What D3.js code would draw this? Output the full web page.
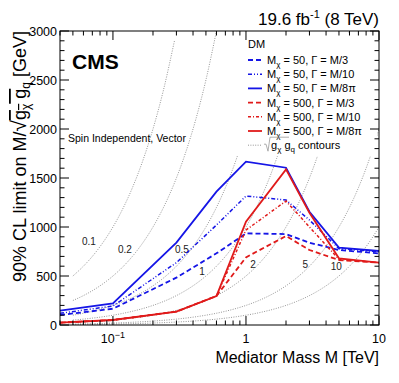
<!DOCTYPE html>
<html><head><meta charset="utf-8">
<script src="https://cdn.jsdelivr.net/npm/d3@7"></script>
<style>
body{margin:0;background:#fff;}
svg{display:block;font-family:"Liberation Sans",Arial,sans-serif;}
</style></head>
<body><svg id="c" width="399" height="383"></svg>
<script>
// ---------- data ----------
const masses = [0.04, 0.1, 0.3, 0.6, 1, 2, 3, 5, 10]; // TeV
const mx50_w3   = [102, 166, 483, 731, 935, 928, 840, 765, 731];
const mx50_w10  = [119, 194, 636, 1020, 1316, 1276, 1071, 779, 748];
const mx50_w8pi = [146, 221, 840, 1360, 1666, 1605, 1156, 789, 755];
const mx500_w3   = [24, 51, 136, 296, 690, 908, 765, 663, 636];
const mx500_w10  = [24, 51, 136, 296, 969, 1265, 1000, 670, 636];
const mx500_w8pi = [24, 51, 136, 296, 1054, 1588, 1146, 680, 636];
const contourCouplings = [0.1, 0.2, 0.5, 1, 2, 5, 10];
const contourLabels = ["0.1", "0.2", "0.5", "1", "2", "5", "10"];
const contourMassGrid = [0.05,0.06,0.07,0.08,0.09,0.1,0.12,0.14,0.17,0.2,0.24,0.29,0.35,0.42,0.5,0.6,0.7,0.85,1,1.2,1.4,1.7,2,2.4,2.9,3.5,4.2,5,6,7,8.5,10];
const yTicks = [0, 500, 1000, 1500, 2000, 2500, 3000];
const xTickLabels = [{v:0.1, base:"10", sup:"−1"}, {v:1, base:"1"}, {v:10, base:"10"}];

const series = [
  {mx:"50",  w:"M/3",  vals:mx50_w3,   color:"#1515e6", dash:"5,3",         width:1.8},
  {mx:"50",  w:"M/10", vals:mx50_w10,  color:"#1515e6", dash:"4,2,1,2,1,2", width:1.5},
  {mx:"50",  w:"M/8π", vals:mx50_w8pi, color:"#1515e6", dash:null,          width:1.8},
  {mx:"500", w:"M/3",  vals:mx500_w3,  color:"#e01a1a", dash:"5,3",         width:1.8},
  {mx:"500", w:"M/10", vals:mx500_w10, color:"#e01a1a", dash:"3,2,1,2",     width:1.5},
  {mx:"500", w:"M/8π", vals:mx500_w8pi,color:"#e01a1a", dash:null,          width:1.8}
];

// ---------- layout ----------
const L = 60, R = 379, T = 31, B = 325;
const svg = d3.select("#c");
const x = d3.scaleLog().domain([0.04, 10]).range([L, R]);
const y = d3.scaleLinear().domain([0, 3000]).range([B, T]);

svg.append("defs").append("clipPath").attr("id","clip")
  .append("rect").attr("x",L).attr("y",T).attr("width",R-L).attr("height",B-T);

// contours
const cg = svg.append("g").attr("clip-path","url(#clip)");
const cline = d3.line().x(d=>x(d[0])).y(d=>y(d[1])).curve(d3.curveMonotoneX);
contourCouplings.forEach(g=>{
  const pts = contourMassGrid.map(m=>[m, m*1000/g]).filter(p=>p[1]<=3000);
  cg.append("path").attr("d", cline(pts)).attr("fill","none")
    .attr("stroke","#8a8a8a").attr("stroke-width",0.9).attr("stroke-dasharray","1,1.4");
});
// contour labels (layout anchors in data space)
const labelPos = [[0.066,857],[0.123,775],[0.33,775],[0.467,541],[1.13,622],[2.79,622],[4.77,592]];
contourLabels.forEach((t,i)=>{
  svg.append("text").attr("x",x(labelPos[i][0])).attr("y",y(labelPos[i][1])+3.5)
    .attr("text-anchor","middle").attr("font-size",10).attr("fill","#222").text(t);
});

// legend (white box)
const lg = svg.append("g");
lg.append("rect").attr("x",234).attr("y",33).attr("width",143).attr("height",123).attr("fill","#fff");
lg.append("text").attr("x",248).attr("y",48).attr("font-size",11).text("DM");
const ly0 = 60, ldy = 14.2;
series.forEach((s,i)=>{
  const yy = ly0 + i*ldy;
  lg.append("line").attr("x1",248).attr("x2",262).attr("y1",yy).attr("y2",yy)
    .attr("stroke",s.color).attr("stroke-width",s.width).attr("stroke-dasharray",s.dash);
  const t = lg.append("text").attr("x",267).attr("y",yy+4).attr("font-size",11);
  t.append("tspan").text("M");
  t.append("tspan").attr("font-size",8).attr("dy",3).text("χ");
  t.append("tspan").attr("dy",-3).text(" = " + s.mx + ", Γ = " + s.w);
});
{
  const yy = ly0 + 6*ldy;
  lg.append("line").attr("x1",248).attr("x2",262).attr("y1",yy).attr("y2",yy)
    .attr("stroke","#8a8a8a").attr("stroke-width",0.9).attr("stroke-dasharray","1,1.4");
  lg.append("path").attr("d",`M264,${yy-1} L266,${yy-1} L268,${yy+6} L270,${yy-8} L289,${yy-8}`)
    .attr("fill","none").attr("stroke","#999").attr("stroke-width",0.8);
  const t = lg.append("text").attr("x",271).attr("y",yy+4).attr("font-size",11);
  t.append("tspan").text("g");
  t.append("tspan").attr("font-size",8).attr("dy",3).text("χ");
  t.append("tspan").attr("dy",-3).text(" g");
  t.append("tspan").attr("font-size",8).attr("dy",3).text("q");
  t.append("tspan").attr("dy",-3).text(" contours");
}

// data lines
const dl = d3.line().x(d=>x(d[0])).y(d=>y(d[1]));
const dg = svg.append("g").attr("clip-path","url(#clip)");
series.forEach(s=>{
  dg.append("path").attr("d", dl(masses.map((m,j)=>[m, s.vals[j]])))
    .attr("fill","none").attr("stroke",s.color).attr("stroke-width",s.width)
    .attr("stroke-dasharray",s.dash).attr("stroke-linejoin","miter");
});

// frame
svg.append("rect").attr("x",L).attr("y",T).attr("width",R-L).attr("height",B-T)
  .attr("fill","none").attr("stroke","#000").attr("stroke-width",1);

// y ticks
d3.range(0, 3001, 100).forEach(v=>{
  const major = v % 500 === 0;
  const len = major ? 9 : 4.5;
  svg.append("line").attr("x1",L).attr("x2",L+len).attr("y1",y(v)).attr("y2",y(v)).attr("stroke","#000");
  svg.append("line").attr("x1",R).attr("x2",R-len).attr("y1",y(v)).attr("y2",y(v)).attr("stroke","#000");
});
yTicks.forEach(v=>{
  svg.append("text").attr("x",L-3).attr("y",y(v)+4.5).attr("text-anchor","end")
    .attr("font-size",12.5).text(v);
});
// x ticks
const xMinor = [];
[0.01,0.1,1].forEach(dec=>{ for(let k=1;k<=9;k++){ const v=dec*k; if(v>=0.04-1e-9 && v<=10) xMinor.push(v);} });
xMinor.push(10);
xMinor.forEach(v=>{
  const major = Math.abs(Math.log10(v) - Math.round(Math.log10(v))) < 1e-6;
  const len = major ? 9 : 4.5;
  svg.append("line").attr("x1",x(v)).attr("x2",x(v)).attr("y1",B).attr("y2",B-len).attr("stroke","#000");
  svg.append("line").attr("x1",x(v)).attr("x2",x(v)).attr("y1",T).attr("y2",T+len).attr("stroke","#000");
});
xTickLabels.forEach(d=>{
  const t = svg.append("text").attr("x",x(d.v)).attr("y",343).attr("text-anchor","middle").attr("font-size",12.5);
  t.append("tspan").text(d.base);
  if(d.sup) t.append("tspan").attr("font-size",9).attr("dy",-5).text(d.sup);
});

// titles
svg.append("text").attr("x",R).attr("y",363).attr("text-anchor","end").attr("font-size",16)
  .text("Mediator Mass M [TeV]");
{
  const t = svg.append("text").attr("transform",`translate(26,${T}) rotate(-90)`)
    .attr("text-anchor","end").attr("font-size",18);
  t.append("tspan").text("90% CL limit on M/");
  t.append("tspan").attr("font-size",21).text("√");
  t.append("tspan").style("text-decoration","overline").text("g");
  t.append("tspan").attr("font-size",12).attr("dy",4).style("text-decoration","overline").text("χ");
  t.append("tspan").attr("dy",-4).style("text-decoration","overline").text(" g");
  t.append("tspan").attr("font-size",12).attr("dy",4).text("q");
  t.append("tspan").attr("dy",-4).text(" [GeV]");
}
svg.append("text").attr("x",72).attr("y",69).attr("font-size",21).attr("font-weight","bold").text("CMS");
svg.append("text").attr("x",68).attr("y",142).attr("font-size",10.5).text("Spin Independent, Vector");
{
  const t = svg.append("text").attr("x",R).attr("y",25).attr("text-anchor","end").attr("font-size",17);
  t.append("tspan").text("19.6 fb");
  t.append("tspan").attr("font-size",11).attr("dy",-7).text("-1");
  t.append("tspan").attr("dy",7).text(" (8 TeV)");
}
</script></body></html>
